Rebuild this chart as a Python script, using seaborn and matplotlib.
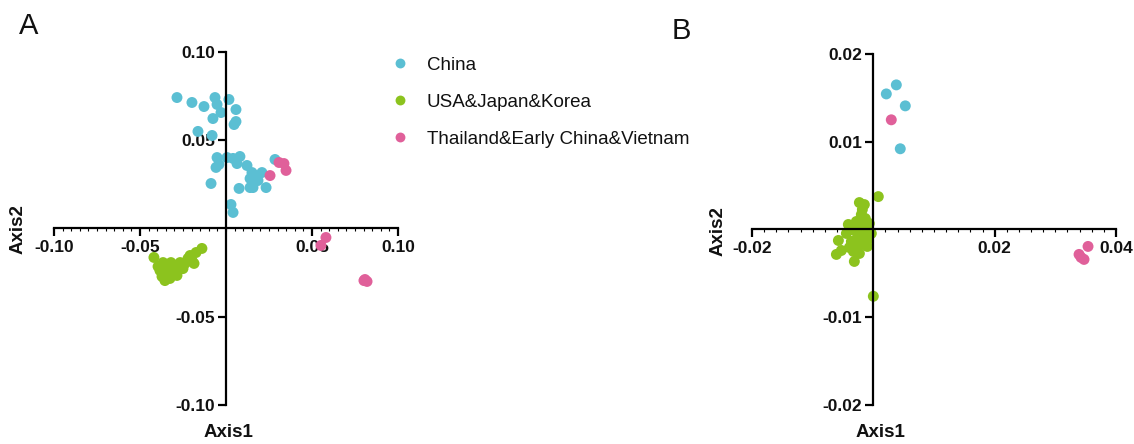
import numpy as np
import pandas as pd
import matplotlib
matplotlib.use("Agg")
import matplotlib.pyplot as plt
import seaborn as sns
from matplotlib.ticker import MultipleLocator

groups = ["China", "USA&Japan&Korea", "Thailand&Early China&Vietnam"]
palette = {"China": "#5BBFD3", "USA&Japan&Korea": "#8CC31E",
           "Thailand&Early China&Vietnam": "#E0609A"}

# Panel A
a_china_x = [-0.0285, -0.0198, -0.0128, -0.0064, -0.0052, -0.0029, -0.0076, 0.0017, 0.0058, 0.0058,
             0.0047, -0.0163, -0.0081, -0.0052, -0.0041, 0.0006, 0.0041, 0.0081, 0.0064, 0.0122,
             -0.0058, 0.0151, 0.0169, 0.0140, 0.0157, 0.0140, 0.0233, 0.0076, -0.0087, 0.0285,
             0.0029, 0.0041, 0.0209, 0.0186]
a_china_y = [0.0742, 0.0714, 0.0691, 0.0742, 0.0703, 0.0657, 0.0623, 0.0731, 0.0674, 0.0606,
             0.0589, 0.0550, 0.0527, 0.0402, 0.0363, 0.0402, 0.0397, 0.0408, 0.0368, 0.0357,
             0.0346, 0.0317, 0.0300, 0.0283, 0.0232, 0.0232, 0.0232, 0.0227, 0.0255, 0.0391,
             0.0136, 0.0091, 0.0317, 0.0272]
a_usa_x = [-0.0419, -0.0384, -0.0372, -0.0355, -0.0326, -0.0337, -0.0297, -0.0314, -0.0279, -0.0267,
           -0.0238, -0.0221, -0.0198, -0.0174, -0.0140, -0.0250, -0.0285, -0.0349, -0.0395, -0.0366,
           -0.0320, -0.0209, -0.0186, -0.0300, -0.0340, -0.0260]
a_usa_y = [-0.0164, -0.0238, -0.0272, -0.0295, -0.0283, -0.0227, -0.0210, -0.0249, -0.0238, -0.0193,
           -0.0198, -0.0170, -0.0181, -0.0136, -0.0113, -0.0227, -0.0266, -0.0255, -0.0215, -0.0193,
           -0.0193, -0.0153, -0.0198, -0.0225, -0.0240, -0.0210]
a_thai_x = [0.0308, 0.0337, 0.0349, 0.0256, 0.0581, 0.0552, 0.0802, 0.0820, 0.0808]
a_thai_y = [0.0374, 0.0368, 0.0329, 0.0300, -0.0051, -0.0096, -0.0295, -0.0300, -0.0289]

# Panel B
b_china_x = [0.00379, 0.00214, 0.00527, 0.00444]
b_china_y = [0.01648, 0.01545, 0.01409, 0.00920]
b_usa_x = [0.00082, -0.00230, -0.00148, -0.00181, -0.00198, -0.00280, -0.00412, -0.00362, -0.00230, -0.00115,
           -0.00165, -0.00280, -0.00362, -0.00576, -0.00527, -0.00609, -0.00313, -0.00230, -0.00099, -0.00395,
           -0.00198, -0.00066, -0.00033, -0.00444, -0.00263, -0.00132, -0.00329, 0.0,
           -0.00250, -0.00150, -0.00300, -0.00200, -0.00100]
b_usa_y = [0.00375, 0.00307, 0.00284, 0.00227, 0.00170, 0.00091, 0.00057, 0.0, 0.00034, -0.00023,
           -0.00080, -0.00114, -0.00136, -0.00125, -0.00239, -0.00284, -0.00364, -0.00273, -0.00193, -0.00205,
           -0.00170, 0.00068, -0.00045, -0.00045, -0.00045, 0.00125, -0.00250, -0.00761,
           -0.00160, 0.00010, 0.00060, -0.00090, -0.00120]
b_thai_x = [0.00296, 0.03539, 0.03391, 0.03473, 0.03424]
b_thai_y = [0.01250, -0.00193, -0.00284, -0.00341, -0.00318]

a_xticks = [-0.10, -0.05, 0.05, 0.10]
a_yticks = [-0.10, -0.05, 0.05, 0.10]
b_xticks = [-0.02, 0.02, 0.04]
b_yticks = [-0.02, -0.01, 0.01, 0.02]


def make_df(cx, cy, ux, uy, tx, ty):
    return pd.DataFrame({
        "Axis1": cx + ux + tx,
        "Axis2": cy + uy + ty,
        "group": [groups[0]] * len(cx) + [groups[1]] * len(ux) + [groups[2]] * len(tx),
    })


dfA = make_df(a_china_x, a_china_y, a_usa_x, a_usa_y, a_thai_x, a_thai_y)
dfB = make_df(b_china_x, b_china_y, b_usa_x, b_usa_y, b_thai_x, b_thai_y)

sns.set_theme(style="white")
plt.rcParams["font.family"] = ["Liberation Sans", "DejaVu Sans"]

W, H = 1134, 444
fig = plt.figure(figsize=(W / 100, H / 100), dpi=100)


def px_axes(x0, x1, ytop, ybot):
    return fig.add_axes([x0 / W, 1 - ybot / H, (x1 - x0) / W, (ybot - ytop) / H])


axA = px_axes(54, 398, 52, 405)
axB = px_axes(752, 1116, 54, 405)


def style(ax, xlim, ylim, xt, yt, xminor):
    ax.set_xlim(*xlim)
    ax.set_ylim(*ylim)
    ax.set_facecolor("none")
    for s in ["top", "right"]:
        ax.spines[s].set_visible(False)
    for s in ["left", "bottom"]:
        ax.spines[s].set_position(("data", 0))
        ax.spines[s].set_linewidth(1.6)
        ax.spines[s].set_color("black")
    ax.spines["bottom"].set_bounds(*xlim)
    ax.spines["left"].set_bounds(*ylim)
    ax.set_xticks(xt)
    ax.set_yticks(yt)
    ax.set_xticklabels([f"{v:.2f}" for v in xt])
    ax.set_yticklabels([f"{v:.2f}" for v in yt])
    ax.xaxis.set_minor_locator(MultipleLocator(xminor))
    ax.tick_params(axis="both", which="major", direction="out", length=6, width=1.6,
                   color="black", labelsize=12.5, pad=2, bottom=True, left=True)
    ax.tick_params(axis="x", which="minor", direction="out", length=2.5, width=0.8,
                   color="black", bottom=True)
    for lab in ax.get_xticklabels() + ax.get_yticklabels():
        lab.set_fontweight("bold")
        lab.set_color("#111111")
    ax.set_xlabel("")
    ax.set_ylabel("")


sns.scatterplot(data=dfA, x="Axis1", y="Axis2", hue="group", hue_order=groups,
                palette=palette, s=62, edgecolor="none", ax=axA, clip_on=False, legend=True)
sns.scatterplot(data=dfB, x="Axis1", y="Axis2", hue="group", hue_order=groups,
                palette=palette, s=62, edgecolor="none", ax=axB, clip_on=False, legend=False)

style(axA, (-0.10, 0.10), (-0.10, 0.10), a_xticks, a_yticks, 0.005)
style(axB, (-0.02, 0.04), (-0.02, 0.02), b_xticks, b_yticks, 0.002)

leg = axA.legend(loc="upper left", bbox_to_anchor=(364 / W, 1 - 40 / H),
                 bbox_transform=fig.transFigure, frameon=False, fontsize=13.5,
                 labelspacing=1.05, handletextpad=0.45, markerscale=0.9)
for t in leg.get_texts():
    t.set_color("#111111")

lab_kw = dict(fontsize=13.5, fontweight="bold", color="#111111", ha="center", va="center")
fig.text(228 / W, 1 - 432 / H, "Axis1", **lab_kw)
fig.text(18 / W, 1 - 229 / H, "Axis2", rotation=90, **lab_kw)
fig.text(880 / W, 1 - 432 / H, "Axis1", **lab_kw)
fig.text(718 / W, 1 - 231 / H, "Axis2", rotation=90, **lab_kw)
fig.text(29 / W, 1 - 26 / H, "A", fontsize=21, ha="center", va="center", color="#111111")
fig.text(681 / W, 1 - 31 / H, "B", fontsize=21, ha="center", va="center", color="#111111")

fig.savefig("out.png", dpi=100)
